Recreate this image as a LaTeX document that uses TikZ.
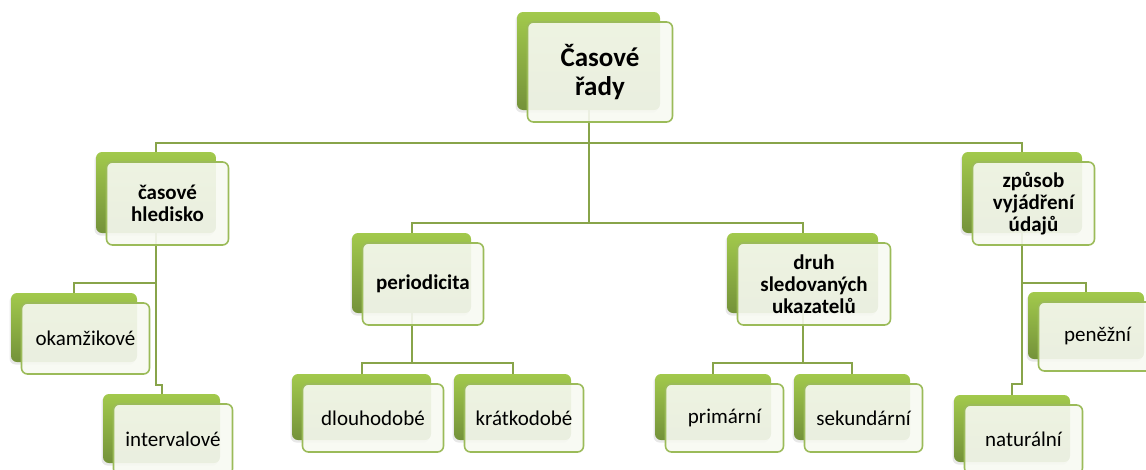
\documentclass[tikz,border=0pt]{standalone}
\usepackage{fontspec}
\setmainfont{Carlito}
\usetikzlibrary{shadows}
\definecolor{leafgreen}{HTML}{9BBB59}
\definecolor{greenlight}{HTML}{A2C94C}
\definecolor{greendark}{HTML}{74923A}
\definecolor{connline}{HTML}{88A44A}
\definecolor{paper}{HTML}{F7F9F2}
\pgfdeclarelayer{bg}
\pgfsetlayers{bg,main}
\tikzset{
  backbox/.style={rectangle, rounded corners=6pt, inner sep=0pt,
    top color=greenlight, bottom color=greendark, draw=none,
    drop shadow={shadow xshift=-1.5pt, shadow yshift=-2.5pt, opacity=0.18}},
  frontbox/.style={rectangle, rounded corners=6pt, inner sep=0pt,
    draw=leafgreen, line width=1.6pt, fill=paper, fill opacity=0.9,
    text opacity=1, align=center, text=black},
  lvltop/.style={font=\fontsize{27}{29}\selectfont\bfseries},
  lvlone/.style={font=\fontsize{21}{22}\selectfont\bfseries},
  leaf/.style={font=\fontsize{21}{22}\selectfont},
  conn/.style={draw=connline, line width=2pt}
}
% #1 name, #2/#3 centre of the green back plate, #4/#5 its size,
% #6 text style, #7 label; the light plate sits offset down-right
\newcommand\twobox[7]{%
  \node[backbox, minimum width=#4, minimum height=#5] (#1b) at (#2,#3) {};
  \node[frontbox, minimum width=#4+2, minimum height=#5+2, #6] (#1) at (#2+11.5,#3+11) {#7};
}
\begin{document}
\begin{tikzpicture}[x=1pt,y=-1pt]
\useasboundingbox (0,0) rectangle (1146,469);
\clip (0,0) rectangle (1146,469);

\twobox{top}{588.5}{61}{143}{98}{lvltop}{Časové\\řady}
\twobox{cas}{156}{192.5}{120}{81}{lvlone}{časové\\hledisko}
\twobox{zpu}{1022}{192.5}{120}{81}{lvlone}{způsob\\vyjádření\\údajů}
\twobox{per}{411.5}{273}{119}{80}{lvlone}{periodicita}
\twobox{dru}{802.5}{273}{151}{80}{lvlone}{druh\\sledovaných\\ukazatelů}
\twobox{oka}{74}{327.5}{126}{69}{leaf}{okamžikové}
\twobox{int}{161.5}{428.5}{117}{69}{leaf}{intervalové}
\twobox{dlo}{361.5}{407}{139}{66}{leaf}{dlouhodobé}
\twobox{kra}{512.5}{407}{117}{66}{leaf}{krátkodobé}
\twobox{pri}{713}{407}{116}{66}{leaf}{primární}
\twobox{sek}{852}{407}{116}{66}{leaf}{sekundární}
\twobox{pen}{1086}{325.5}{116}{67}{leaf}{peněžní}
\twobox{nat}{1012}{428.5}{116}{67}{leaf}{naturální}

% junction points of the tree lines
\coordinate (j1) at (588.5,142.5);
\coordinate (j2) at (588.5,223);
\coordinate (jc) at (156,283);
\coordinate (jc2) at (156,385);
\coordinate (jp) at (411.5,363);
\coordinate (jd) at (802.5,363);
\coordinate (jz) at (1022,283);
\coordinate (jz2) at (1022,384);

\begin{pgfonlayer}{bg}
  \draw[conn] (topb.center) -- (j2);
  \draw[conn] (j1) -| (casb.north);
  \draw[conn] (j1) -| (zpub.north);
  \draw[conn] (j2) -| (perb.north);
  \draw[conn] (j2) -| (drub.north);
  % časové hledisko
  \draw[conn] (casb.center) -- (jc2) -| (intb.north);
  \draw[conn] (jc) -| (okab.north);
  % periodicita
  \draw[conn] (perb.center) -- (jp);
  \draw[conn] (jp) -| (dlob.north);
  \draw[conn] (jp) -| (krab.north);
  % druh sledovaných ukazatelů
  \draw[conn] (drub.center) -- (jd);
  \draw[conn] (jd) -| (prib.north);
  \draw[conn] (jd) -| (sekb.north);
  % způsob vyjádření údajů
  \draw[conn] (zpub.center) -- (jz2) -| (natb.north);
  \draw[conn] (jz) -| (penb.north);
\end{pgfonlayer}
\end{tikzpicture}
\end{document}
